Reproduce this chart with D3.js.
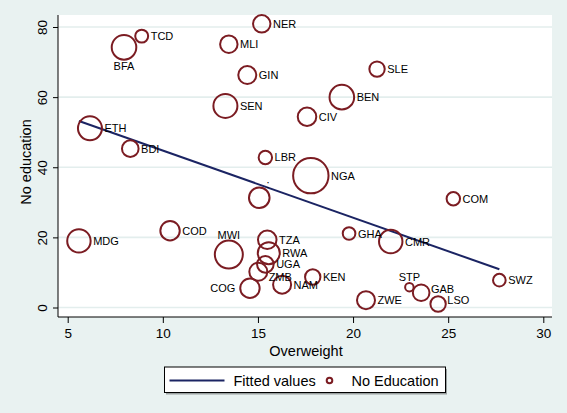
<!DOCTYPE html>
<html>
<head>
<meta charset="utf-8">
<script src="https://cdn.jsdelivr.net/npm/d3@7"></script>
<style>
  html, body { margin: 0; padding: 0; background: #e9f2f1; }
  svg { display: block; }
  text { font-family: "Liberation Sans", Arial, sans-serif; fill: #000; }
</style>
</head>
<body>
<svg id="chart" width="567" height="413"></svg>
<script>
// ---- data ----
const codes = ["NER","TCD","BFA","MLI","GIN","SLE","BEN","SEN","CIV","ETH","BDI","LBR","NGA",":","COM","GHA","CMR","MDG","COD","MWI","TZA","RWA","UGA","ZMB","COG","NAM","KEN","ZWE","STP","GAB","LSO","SWZ"];
const overweight = [15.2,8.89,7.96,13.47,14.44,21.26,19.41,13.29,17.58,6.17,8.29,15.39,17.78,15.07,25.27,19.79,21.98,5.59,10.38,13.47,15.49,15.57,15.39,15.02,14.58,16.27,17.88,20.68,22.96,23.58,24.47,27.69];
const noEducation = [80.9,77.4,74.2,75.1,66.3,68.0,60.0,57.5,54.4,51.1,45.3,42.8,37.6,31.3,31.0,21.1,18.8,19.0,21.9,15.1,19.3,15.5,12.3,10.2,5.5,6.5,8.7,2.1,5.8,4.2,1.0,7.8];
const weights = [76,42,151,76,81,59,151,144,86,144,69,45,313,106,45,40,137,137,94,196,86,121,69,81,94,81,59,81,18,69,59,40];
const labelClock = [3,3,6,3,3,3,3,3,3,3,3,3,3,1,3,3,3,3,3,12,3,3,3,4,9,3,3,3,12,2,2,3];
const fitX = [5.59, 27.69];
const fitY = [53.2, 10.9];
const xTicks = [5,10,15,20,25,30];
const yTicks = [0,20,40,60,80];
const legendLabels = ["Fitted values","No Education"];

// ---- styles ----
const maroon = "#7b1c22";
const navy = "#1b2463";

const svg = d3.select("#chart");
const plot = {left: 58, right: 552, top: 15, bottom: 317};

const x = d3.scaleLinear().domain([5,30]).range([67.7,543.3]);
const y = d3.scaleLinear().domain([0,80]).range([307.5,27]);
const r = d3.scaleSqrt().domain([0, d3.max(weights)]).range([0, 17.7]);

// background plot region
svg.append("rect").attr("x",0).attr("y",0).attr("width",567).attr("height",413).attr("fill","#e9f2f1");
svg.append("rect").attr("x",plot.left).attr("y",plot.top)
  .attr("width",plot.right-plot.left).attr("height",plot.bottom-plot.top).attr("fill","#ffffff");

// gridlines
svg.append("g").selectAll("line").data(yTicks).join("line")
  .attr("x1",plot.left).attr("x2",plot.right)
  .attr("y1",d=>y(d)).attr("y2",d=>y(d))
  .attr("stroke","#e3eeed").attr("stroke-width",1.6);

// axes
const yAxis = d3.axisLeft(y).tickValues(yTicks).tickSize(5).tickPadding(4);
const gy = svg.append("g").attr("transform",`translate(${plot.left},0)`).call(yAxis);
gy.select(".domain").attr("d",`M0,${plot.top}V${plot.bottom}`).attr("stroke","#000");
gy.selectAll(".tick line").attr("stroke","#000");
gy.selectAll(".tick text")
  .attr("font-size",13.5)
  .attr("text-anchor","middle").attr("dy",null)
  .attr("x",null)
  .attr("transform","translate(-11.5,0) rotate(-90)");

const xAxis = d3.axisBottom(x).tickValues(xTicks).tickSize(6).tickPadding(5);
const gx = svg.append("g").attr("transform",`translate(0,${plot.bottom})`).call(xAxis);
gx.select(".domain").attr("d",`M${plot.left},0H${plot.right}`).attr("stroke","#000");
gx.selectAll(".tick line").attr("stroke","#000");
gx.selectAll(".tick text").attr("font-size",13.5);
gy.attr("font-family",null); gx.attr("font-family",null);

// fitted line
const fit = fitX.map((d,i)=>[d, fitY[i]]);
svg.append("path").datum(fit)
  .attr("d", d3.line().x(d=>x(d[0])).y(d=>y(d[1])))
  .attr("fill","none").attr("stroke",navy).attr("stroke-width",2);

// points
const pts = codes.map((c,i)=>({code:c, ov:overweight[i], ne:noEducation[i], w:weights[i], pos:labelClock[i]}));
svg.append("g").selectAll("circle").data(pts).join("circle")
  .attr("cx",d=>x(d.ov)).attr("cy",d=>y(d.ne)).attr("r",d=>r(d.w))
  .attr("fill","none").attr("stroke",maroon).attr("stroke-width",2);

// labels
function labelAttrs(d){
  const cx = x(d.ov), cy = y(d.ne), rr = r(d.w);
  switch(d.pos){
    case 12: return {x:cx, y:cy-rr-2, a:"middle"};
    case 6: return {x:cx, y:cy+rr+10, a:"middle"};
    case 9: return {x:cx-rr-5, y:cy+4, a:"end"};
    case 2: return {x:cx+rr*0.87+2.5, y:cy-rr*0.5+4, a:"start"};
    case 4: return {x:cx+rr*0.87+2.5, y:cy+rr*0.5+5, a:"start"};
    case 1: return {x:cx+rr*0.5+2, y:cy-rr*0.87-1, a:"start"};
    default: return {x:cx+rr+2.5, y:cy+4, a:"start"};
  }
}
svg.append("g").selectAll("text").data(pts).join("text")
  .each(function(d){
    const a = labelAttrs(d);
    d3.select(this).attr("x",a.x).attr("y",a.y).attr("text-anchor",a.a);
  })
  .attr("font-size",11)
  .text(d=>d.code);

// axis titles
svg.append("text").attr("x",306).attr("y",355.5).attr("text-anchor","middle")
  .attr("font-size",14.5).text("Overweight");
svg.append("text").attr("transform","translate(31,162) rotate(-90)").attr("text-anchor","middle")
  .attr("font-size",14.5).text("No education");

// legend
const lg = svg.append("g");
lg.append("rect").attr("x",166).attr("y",369).attr("width",281).attr("height",25.5).attr("fill","#9aa0a0");
lg.append("rect").attr("x",164.5).attr("y",367).attr("width",281).attr("height",25.5)
  .attr("fill","#fff").attr("stroke","#000").attr("stroke-width",1);
lg.append("line").attr("x1",169.5).attr("x2",224.5).attr("y1",380.5).attr("y2",380.5)
  .attr("stroke",navy).attr("stroke-width",2);
lg.append("text").attr("x",233.5).attr("y",385.5).attr("font-size",14.5).text(legendLabels[0]);
lg.append("circle").attr("cx",329.5).attr("cy",380.5).attr("r",2.8)
  .attr("fill","none").attr("stroke",maroon).attr("stroke-width",2);
lg.append("text").attr("x",351.5).attr("y",385.5).attr("font-size",14.5).text(legendLabels[1]);
</script>
</body>
</html>
